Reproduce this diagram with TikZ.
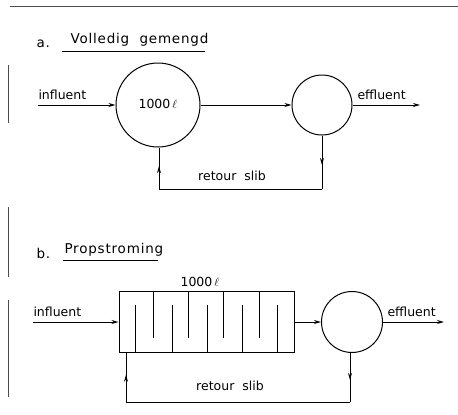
\documentclass[tikz,border=0pt]{standalone}
\usepackage{fontspec}
\setmainfont{DejaVu Sans}
\usetikzlibrary{arrows.meta,decorations.markings}
\begin{document}
\begin{tikzpicture}[x=1pt,y=-1pt,
  line width=1pt,
  lbl/.style={font=\fontsize{12.5}{14}\selectfont, inner sep=0pt},
  ttl/.style={font=\fontsize{13.5}{16}\selectfont\addfontfeatures{LetterSpace=6}, inner sep=0pt},
  tank/.style={draw, circle, line width=1pt, inner sep=0pt},
  flow/.style={-{Stealth[length=7pt,width=4pt]}},
  midflow/.style={postaction={decorate},decoration={markings,
     mark=at position 0.55 with {\arrow{Stealth[length=7pt,width=4pt]}}}},
  frame/.style={line width=0.7pt, black!70}]
\useasboundingbox (0,0) rectangle (458,415);
% page borders (scan)
\draw[frame] (10,6) -- (458,6);
\draw[frame] (8,65) -- (8,123);
\draw[frame] (8,207) -- (8,277);
\draw[frame] (8,300) -- (8,397);

% ---------- a ----------
\node[ttl, anchor=base west] (la) at (36,47) {a.};
\node[ttl, anchor=base west] (ta) at (70,43) {Volledig\ \ gemengd};
\coordinate (ua1) at (62,51);
\coordinate (ua2) at (205,51);
\draw[line width=0.7pt] (ua1) -- (ua2);

\node[tank, minimum size=84pt] (c1) at (158,105) {};
\node[lbl] (v1) at (158,104) {1000\,$\ell$};
\node[tank, minimum size=60pt] (c2) at (322,105) {};

\coordinate (ina) at (38,105);
\node[lbl, anchor=base west] (tina) at (38,99) {influent};
\draw[flow] (ina) -- (c1.west);
\draw[flow] (c1.east) -- (c2.west);
\coordinate (outa) at (420,105);
\node[lbl, anchor=base west] (touta) at (357,99) {effluent};
\draw[flow] (c2.east) -- (outa);

\coordinate (ra1) at (159,189);
\coordinate (ra2) at (322,189);
\draw[midflow] (c2.south) -- (ra2);
\draw (ra2) -- (ra1);
\draw[midflow] (ra1) -- (c1.south -| ra1);
\node[lbl, anchor=base] (rsa) at (232,180) {retour\ \ slib};

% ---------- b ----------
\node[ttl, anchor=base west] (lb) at (36,258) {b.};
\node[ttl, anchor=base west] (tb) at (64,253) {Propstroming};
\coordinate (ub1) at (63,260);
\coordinate (ub2) at (158,260);
\draw[line width=0.7pt] (ub1) -- (ub2);

\node[draw, line width=1pt, minimum width=175pt, minimum height=61pt, inner sep=0pt] (pf) at (206.5,321.5) {};
\node[lbl, anchor=base] (v2) at (200,286) {1000\,$\ell$};
% baffles
\foreach \x in {153,188,223,259} \draw (\x,291) -- (\x,338);
\foreach \x in {135,172,207,242,277} \draw (\x,352) -- (\x,305);

\node[tank, minimum size=61pt] (c3) at (352,322) {};

\coordinate (inb) at (33,322);
\node[lbl, anchor=base west] (tinb) at (33,316) {influent};
\draw[flow] (inb) -- (pf.west |- inb);
\draw[flow] (pf.east |- c3.west) -- (c3.west);
\coordinate (outb) at (444,322);
\node[lbl, anchor=base west] (toutb) at (387,316) {effluent};
\draw[flow] (c3.east) -- (outb);

\coordinate (rb1) at (126,402);
\coordinate (rb2) at (350,402);
\draw[midflow] (c3.south -| rb2) -- (rb2);
\draw (rb2) -- (rb1);
\draw[midflow] (rb1) -- (pf.south -| rb1);
\node[lbl, anchor=base] (rsb) at (230,390) {retour\ \ slib};
\end{tikzpicture}
\end{document}
